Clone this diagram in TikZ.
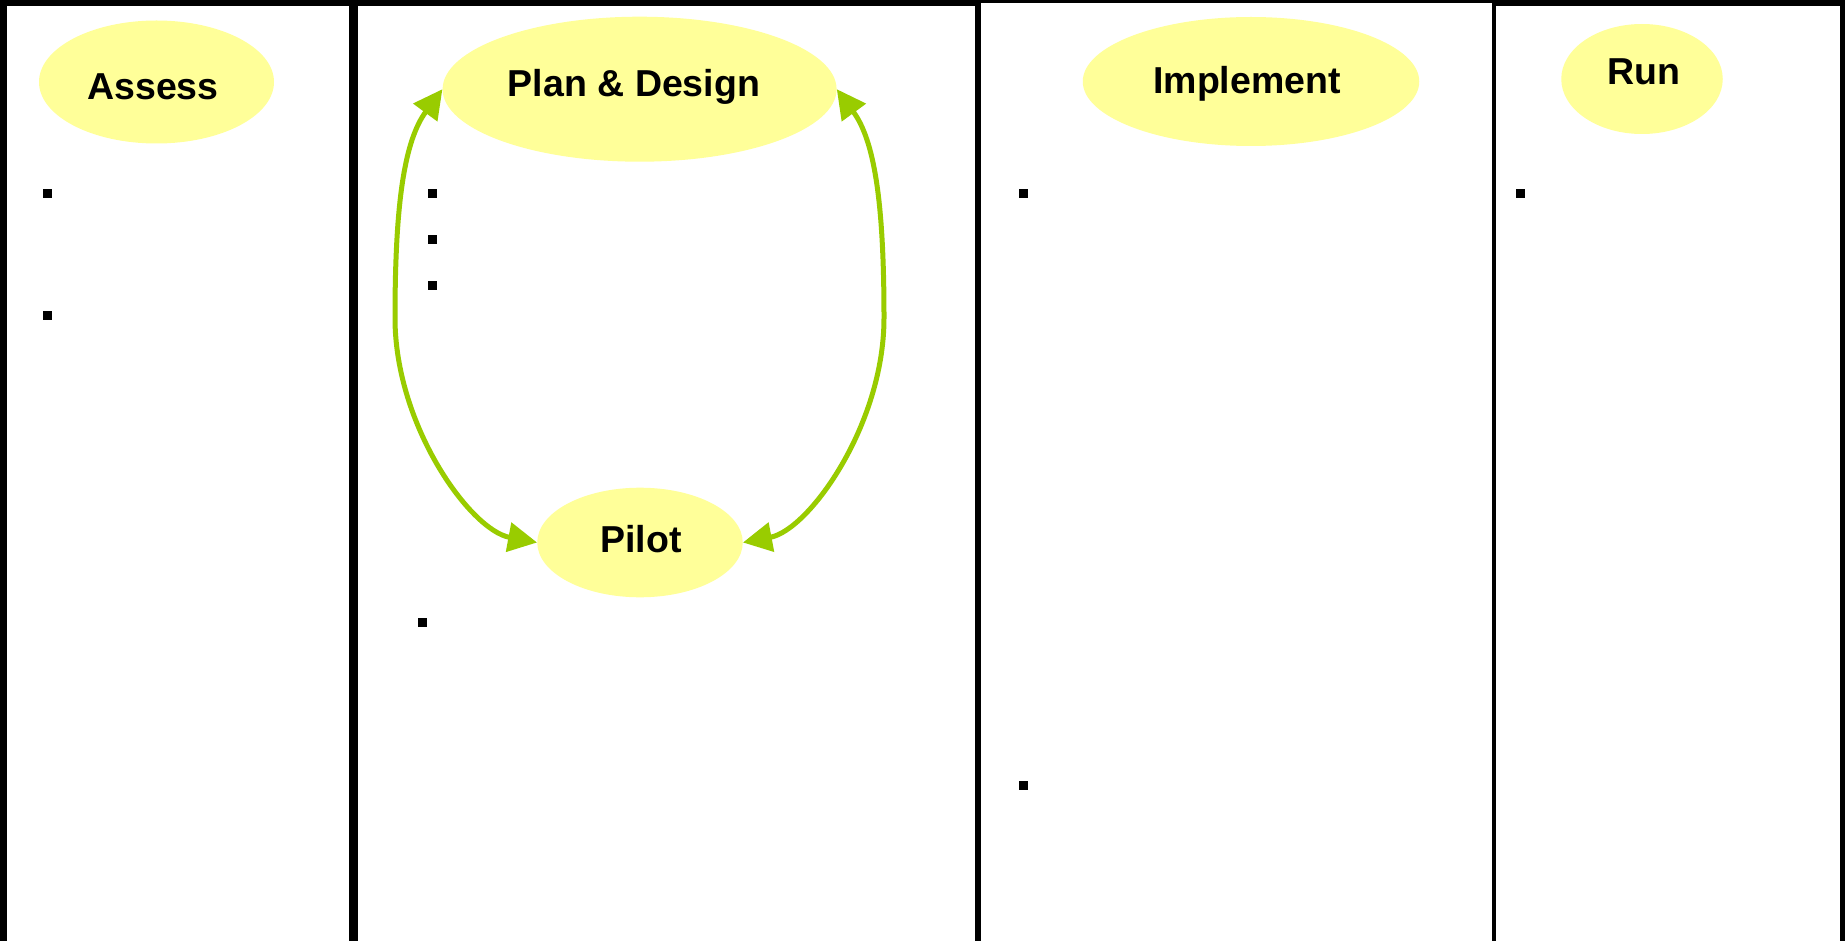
\documentclass[tikz,border=0pt]{standalone}
\usepackage{fontspec}
\setmainfont{Liberation Sans}
\usetikzlibrary{shapes.geometric,arrows.meta}
\definecolor{ellfill}{HTML}{FFFF99}
\definecolor{arrgreen}{HTML}{99CC00}
\tikzset{
  panel/.style={fill=white, draw=none},
  ell/.style={ellipse, fill=ellfill, draw=none, inner sep=0pt},
  lbl/.style={anchor=base, inner sep=0pt, font=\fontsize{37.5}{45}\selectfont\bfseries},
  bul/.style={rectangle, fill=black, draw=none, inner sep=0pt, minimum size=9pt},
  arr/.style={draw=arrgreen, line width=5pt, {Triangle[length=29pt,width=29pt,fill=arrgreen]}-{Triangle[length=29pt,width=29pt,fill=arrgreen]}}
}
\begin{document}
\begin{tikzpicture}[x=1pt,y=-1pt]
\useasboundingbox (0,0) rectangle (1845,941);
\fill[black] (0,0) rectangle (1845,941);
% column panels
\fill[panel] (7.3,6) rectangle (349.3,941);
\fill[panel] (358.3,6) rectangle (975,941);
\fill[panel] (981,3) rectangle (1491.5,941);
\fill[panel] (1496.3,6) rectangle (1840,941);
% ellipses
\node[ell, minimum width=235pt, minimum height=123pt] (Assess) at (156.5,82) {};
\node[ell, minimum width=394pt, minimum height=145pt] (PD) at (639.6,89.2) {};
\node[ell, minimum width=205.5pt, minimum height=109.6pt] (Pilot) at (640,542.5) {};
\node[ell, minimum width=336.5pt, minimum height=129pt] (Impl) at (1251,81.5) {};
\node[ell, minimum width=161.5pt, minimum height=110pt] (Run) at (1642,79) {};
% labels
\node[lbl] (tAssess) at (153,100) {Assess};
\node[lbl] (tPD) at (634,96.7) {Plan \& Design};
\node[lbl] (tPilot) at (641,552.3) {Pilot};
\node[lbl] (tImpl) at (1247,94) {Implement};
\node[lbl] (tRun) at (1644,85) {Run};
% bullets
\node[bul] (b1) at (47,194) {};
\node[bul] (b2) at (47,316) {};
\node[bul] (b3) at (432,194) {};
\node[bul] (b4) at (432,240) {};
\node[bul] (b5) at (432,286) {};
\node[bul] (b6) at (422,622) {};
\node[bul] (b7) at (1023,194) {};
\node[bul] (b8) at (1023,785) {};
\node[bul] (b9) at (1520,194) {};
% arrows
\coordinate (lmid) at (395,318);
\coordinate (rmid) at (884,318);
\draw[arr] (Pilot.west) .. controls (470,530) and (395,425) .. (lmid) .. controls (395,200) and (405,140) .. (PD.west);
\draw[arr] (Pilot.east) .. controls (809,530) and (884,425) .. (rmid) .. controls (884,200) and (874,140) .. (PD.east);
\end{tikzpicture}
\end{document}
